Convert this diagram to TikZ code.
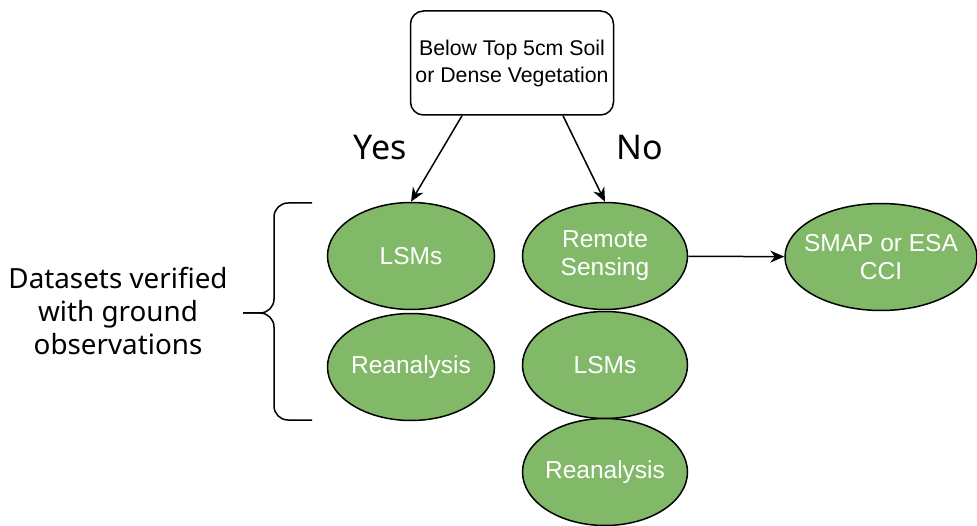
\documentclass[tikz,border=0pt]{standalone}
\usepackage{fontspec}
\setmainfont{Liberation Sans}
\newfontfamily\notefont{Noto Sans}
\usepackage{tikz}
\usetikzlibrary{shapes.geometric,arrows.meta,positioning,calc}
\definecolor{leafgreen}{RGB}{130,185,104}

\begin{document}
\begin{tikzpicture}[x=1pt,y=-1pt,>={Stealth[length=14pt,width=12pt]},line width=1.5pt]
\tikzstyle{Q}=[draw,rounded corners=13pt,minimum width=203pt,minimum height=104pt,align=center,font=\fontsize{21.3}{27}\selectfont]
\tikzstyle{E}=[draw,ellipse,fill=leafgreen,text=white,inner xsep=-25pt,inner ysep=0pt,minimum width=165pt,minimum height=107pt,align=center,font=\fontsize{24.5}{28}\selectfont]
\tikzstyle{L}=[align=center,font=\notefont\fontsize{27.8}{33}\selectfont]
\useasboundingbox (0,0) rectangle (977,526);
\node[Q] (q) at (512,63) {Below Top 5cm Soil\\or Dense Vegetation};
\node[E,minimum width=167pt] (lsm1) at (411,256) {LSMs};
\node[E,minimum width=167pt] (rea1) at (411,367) {Reanalysis};
\node[E] (rs) at (605,256) {Remote\\Sensing};
\node[E] (lsm2) at (605,365) {LSMs};
\node[E] (rea2) at (605,472) {Reanalysis};
\node[E,minimum width=192pt] (smap) at (881,257) {SMAP or ESA\\CCI};
\node[L,font=\notefont\fontsize{34}{40}\selectfont] (yes) at (380,148) {Yes};
\node[L,font=\notefont\fontsize{34}{40}\selectfont] (no) at (640,148) {No};
\node[L] (data) at (118,311) {Datasets verified\\with ground\\observations};
\draw[->] ([xshift=-50pt]q.south) -- (lsm1.north);
\draw[->] ([xshift=51pt]q.south) -- (rs.north);
\draw[->] (rs) -- (smap);
% brace
\draw[rounded corners=14pt] (312,203) -| (274,313) -- (243,313);
\draw[rounded corners=14pt] (243,313) -- (274,313) |- (312,420);
\end{tikzpicture}
\end{document}
